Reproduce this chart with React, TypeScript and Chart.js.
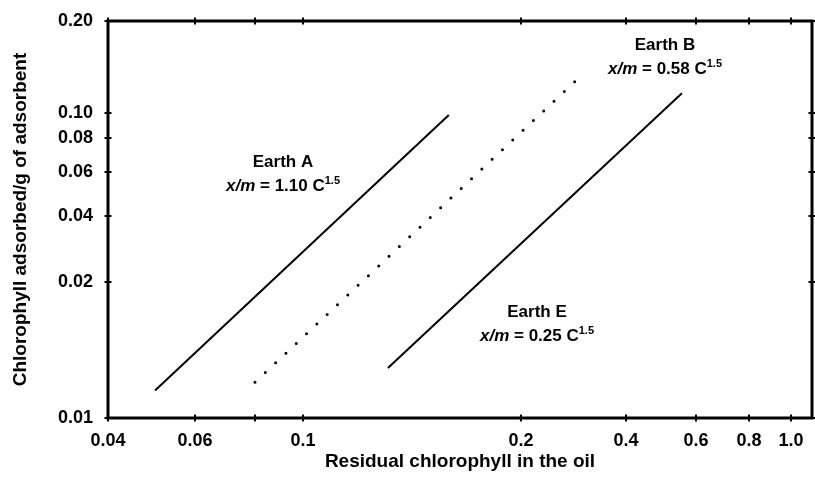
import React, { useEffect, useRef } from 'react';
import { Chart, registerables, LinearScale } from 'chart.js';

Chart.register(...registerables);

// ---------------- data ----------------
const xTickValues = [0.04, 0.06, 0.08, 0.1, 0.2, 0.4, 0.6, 0.8, 1.0];
const xTickLabels = ['0.04', '0.06', '', '0.1', '0.2', '0.4', '0.6', '0.8', '1.0'];
const yTickValues = [0.01, 0.02, 0.04, 0.06, 0.08, 0.1, 0.2];
const yTickLabels = ['0.01', '0.02', '0.04', '0.06', '0.08', '0.10', '0.20'];

// The printed axes are not true log axes: where each value sits along its axis (0 = start, 1 = end)
const xAxisValues = [0.04, 0.06, 0.08, 0.1, 0.2, 0.4, 0.6, 0.8, 1.0, 1.12];
const xAxisSpacing = [0, 0.1236, 0.2088, 0.277, 0.5866, 0.7358, 0.8352, 0.9105, 0.9702, 1];
const yAxisValues = [0.01, 0.02, 0.04, 0.06, 0.08, 0.1, 0.2];
const yAxisSpacing = [0, 0.3426, 0.5088, 0.6196, 0.7053, 0.7683, 1];

// Residual chlorophyll C (x) and adsorbed chlorophyll x/m (y), line end points
const earthAC = [0.0498, 0.159];
const earthAQ = [0.0115, 0.0983];
const earthBC = [0.08, 0.305];
const earthBQ = [0.012, 0.136];
const earthEC = [0.131, 0.553];
const earthEQ = [0.0129, 0.116];

const labelTitles = ['Earth A', 'Earth B', 'Earth E'];
const labelCoefficients = ['1.10', '0.58', '0.25'];
const labelExponent = '1.5';

const xTitle = 'Residual chlorophyll in the oil';
const yTitle = 'Chlorophyll adsorbed/g of adsorbent';

// ---------------- custom scale ----------------
type AxisMap = { values: number[]; spacing: number[] };
const AXIS_MAPS: Record<string, AxisMap> = {
  x: { values: xAxisValues, spacing: xAxisSpacing },
  y: { values: yAxisValues, spacing: yAxisSpacing },
};
const AXIS_TICKS: Record<string, number[]> = { x: xTickValues, y: yTickValues };

function toFraction(m: AxisMap, v: number) {
  const { values, spacing } = m;
  const n = values.length;
  let i = 0;
  while (i < n - 2 && v > values[i + 1]) i++;
  const l0 = Math.log(values[i]);
  const l1 = Math.log(values[i + 1]);
  const t = (Math.log(v) - l0) / (l1 - l0);
  return spacing[i] + t * (spacing[i + 1] - spacing[i]);
}
function fromFraction(m: AxisMap, f: number) {
  const { values, spacing } = m;
  const n = values.length;
  let i = 0;
  while (i < n - 2 && f > spacing[i + 1]) i++;
  const t = (f - spacing[i]) / (spacing[i + 1] - spacing[i]);
  const l0 = Math.log(values[i]);
  const l1 = Math.log(values[i + 1]);
  return Math.exp(l0 + t * (l1 - l0));
}

class PrintedLogScale extends (LinearScale as any) {
  static id = 'printedLog';
  static defaults = (LinearScale as any).defaults;
  determineDataLimits() {
    const m = AXIS_MAPS[(this as any).id];
    (this as any).min = m.values[0];
    (this as any).max = m.values[m.values.length - 1];
  }
  buildTicks() {
    return AXIS_TICKS[(this as any).id].map((value) => ({ value }));
  }
  getPixelForValue(value: number) {
    if (value == null || !(value > 0)) return NaN;
    return (this as any).getPixelForDecimal(toFraction(AXIS_MAPS[(this as any).id], value));
  }
  getValueForPixel(pixel: number) {
    return fromFraction(AXIS_MAPS[(this as any).id], (this as any).getDecimalForPixel(pixel));
  }
}
Chart.register(PrintedLogScale as any);

// ---------------- plugins ----------------
const FONT = "'Liberation Sans', Arial, Helvetica, sans-serif";

const framePlugin = {
  id: 'frameTicks',
  afterDraw(chart: any) {
    const { ctx, chartArea } = chart;
    const { left, right, top, bottom } = chartArea;
    const xs = chart.scales.x;
    const ys = chart.scales.y;
    ctx.save();
    ctx.strokeStyle = '#000';
    ctx.lineWidth = 2;
    ctx.beginPath();
    for (const t of xs.ticks) {
      const p = xs.getPixelForValue(t.value);
      ctx.moveTo(p, bottom - 3.5);
      ctx.lineTo(p, bottom + 3.5);
      ctx.moveTo(p, top - 3.5);
      ctx.lineTo(p, top + 3.5);
    }
    for (const t of ys.ticks) {
      const p = ys.getPixelForValue(t.value);
      ctx.moveTo(left - 3.5, p);
      ctx.lineTo(left + 3.5, p);
      ctx.moveTo(right - 3.5, p);
      ctx.lineTo(right + 3.5, p);
    }
    ctx.stroke();
    ctx.lineWidth = 3;
    ctx.strokeRect(left, top, right - left, bottom - top);
    ctx.restore();
  },
};

// label anchors: [centre x, baseline of title line]
const labelAnchors = [
  [283, 167],
  [665, 50],
  [537, 317],
];

const labelPlugin = {
  id: 'earthLabels',
  afterDatasetsDraw(chart: any) {
    const { ctx } = chart;
    ctx.save();
    ctx.fillStyle = '#000';
    ctx.textBaseline = 'alphabetic';
    labelTitles.forEach((title, i) => {
      const [cx, by] = labelAnchors[i];
      ctx.font = `bold 17px ${FONT}`;
      ctx.textAlign = 'center';
      ctx.fillText(title, cx, by);
      // equation
      ctx.textAlign = 'left';
      const pieces = [
        { text: 'x/m', font: `italic bold 17px ${FONT}`, dy: 0 },
        { text: ` = ${labelCoefficients[i]} C`, font: `bold 17px ${FONT}`, dy: 0 },
        { text: labelExponent, font: `bold 11px ${FONT}`, dy: -7 },
      ];
      let total = 0;
      const widths = pieces.map((p) => {
        ctx.font = p.font;
        const w = ctx.measureText(p.text).width;
        total += w;
        return w;
      });
      let x = cx - total / 2;
      const ey = by + 24;
      pieces.forEach((p, k) => {
        ctx.font = p.font;
        ctx.fillText(p.text, x, ey + p.dy);
        x += widths[k];
      });
    });
    ctx.restore();
  },
};

const tickFont = { family: FONT, weight: 'bold' as const, size: 18 };
const titleFont = { family: FONT, weight: 'bold' as const, size: 19 };

function pts(xs: number[], ys: number[]) {
  return xs.map((x, i) => ({ x, y: ys[i] }));
}

export default function App() {
  const ref = useRef<HTMLCanvasElement>(null);
  useEffect(() => {
    document.body.style.margin = '0';
    const chart = new Chart(ref.current as HTMLCanvasElement, {
      type: 'scatter',
      data: {
        datasets: [
          {
            label: 'Earth A',
            data: pts(earthAC, earthAQ),
            showLine: true,
            borderColor: '#000',
            borderWidth: 2,
            pointRadius: 0,
          },
          {
            label: 'Earth B',
            data: pts(earthBC, earthBQ),
            showLine: true,
            borderColor: '#000',
            borderWidth: 3,
            borderDash: [0, 14.15],
            borderCapStyle: 'round',
            pointRadius: 0,
          },
          {
            label: 'Earth E',
            data: pts(earthEC, earthEQ),
            showLine: true,
            borderColor: '#000',
            borderWidth: 2,
            pointRadius: 0,
          },
        ],
      },
      options: {
        responsive: false,
        animation: false,
        layout: { padding: { top: 21, right: 3, left: 0, bottom: 0 } },
        plugins: { legend: { display: false }, tooltip: { enabled: false } },
        scales: {
          x: {
            type: 'printedLog' as any,
            position: 'bottom',
            grid: { display: false, drawTicks: false },
            border: { display: false },
            ticks: {
              autoSkip: false,
              maxRotation: 0,
              minRotation: 0,
              padding: 12,
              color: '#000',
              font: tickFont,
              callback: (_v: any, i: number) => xTickLabels[i],
            },
            title: { display: true, text: xTitle, color: '#000', font: titleFont, padding: { top: 0, bottom: 10 } },
            afterFit: (s: any) => {
              s.height = 65;
              s.paddingLeft = 0;
              s.paddingRight = 0;
            },
          } as any,
          y: {
            type: 'printedLog' as any,
            position: 'left',
            grid: { display: false, drawTicks: false },
            border: { display: false },
            ticks: {
              autoSkip: false,
              padding: 15,
              color: '#000',
              font: tickFont,
              callback: (_v: any, i: number) => yTickLabels[i],
            },
            title: { display: true, text: yTitle, color: '#000', font: titleFont, padding: { top: 9, bottom: 0 } },
            afterFit: (s: any) => {
              s.width = 108;
              s.paddingTop = 0;
              s.paddingBottom = 0;
            },
          } as any,
        },
      },
      plugins: [framePlugin, labelPlugin],
    } as any);
    return () => chart.destroy();
  }, []);
  return (
    <div style={{ width: 815, height: 483, background: '#fff' }}>
      <canvas ref={ref} width={815} height={483} style={{ display: 'block' }} />
    </div>
  );
}
